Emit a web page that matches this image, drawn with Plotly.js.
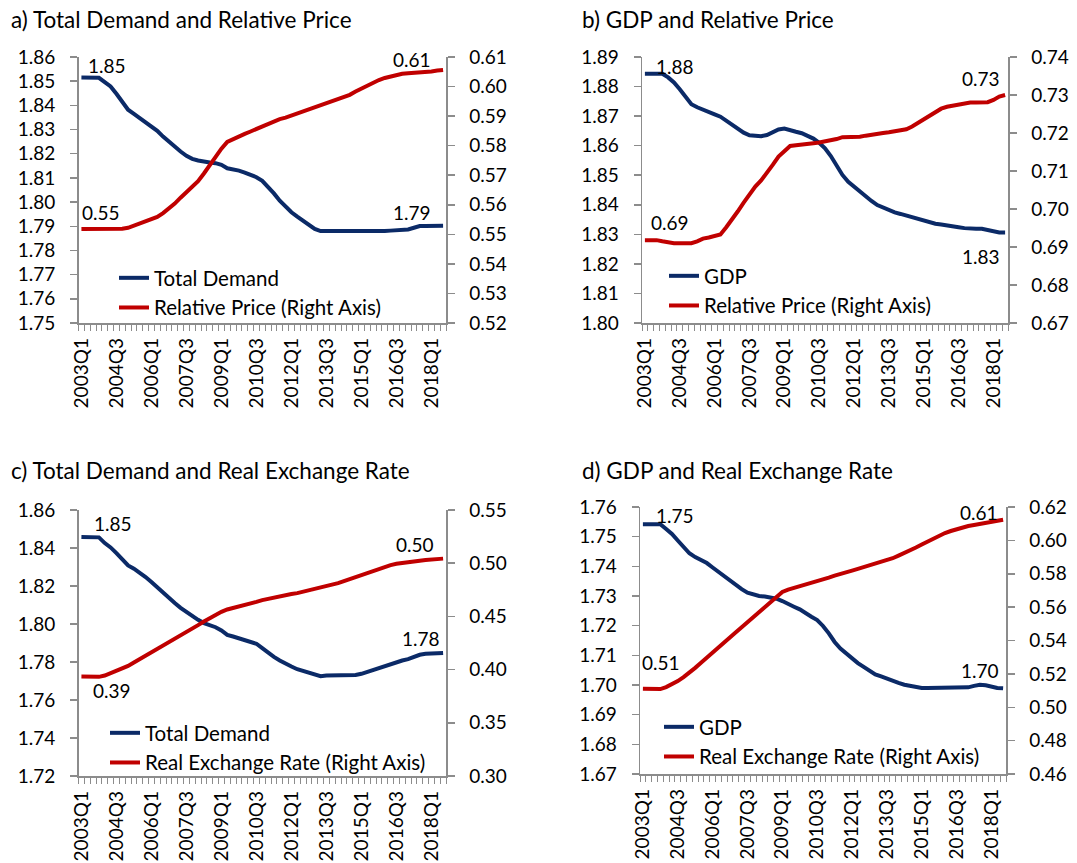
<!DOCTYPE html>
<html><head><meta charset="utf-8">
<script src="https://cdn.plot.ly/plotly-3.0.1.min.js"></script>
<style>html,body{margin:0;padding:0;background:#fff}</style>
</head><body><div id="chart" style="width:1077px;height:863px"></div>
<script>
// Categories: quarterly, 2003Q1 .. 2018Q3
const quarters = [];
for (let y = 2003; y <= 2018; y++) {
  for (let q = 1; q <= 4; q++) {
    if (y === 2018 && q > 3) break;
    quarters.push(y + 'Q' + q);
  }
}
const tickLabels = ['2003Q1','2004Q3','2006Q1','2007Q3','2009Q1','2010Q3','2012Q1','2013Q3','2015Q1','2016Q3','2018Q1'];

// a) Total Demand (left) and Relative Price (right)
const totalDemandA = [1.8515,1.8515,1.8515,1.8514,1.8496,1.8478,1.8448,1.8414,1.8382,1.8365,
  1.8347,1.8327,1.8310,1.8295,1.8271,1.8249,1.8227,1.8209,1.8191,1.8179,
  1.8172,1.8166,1.8164,1.8161,1.8154,1.8140,1.8136,1.8130,1.8122,1.8114,
  1.8103,1.8088,1.8064,1.8036,1.8006,1.7981,1.7958,1.7940,1.7922,1.7905,
  1.7889,1.7880,1.7880,1.7879,1.7878,1.7876,1.7876,1.7876,1.7876,1.7878,
  1.7878,1.7879,1.7880,1.7882,1.7883,1.7885,1.7887,1.7894,1.7901,1.7901,
  1.7900,1.7901,1.7902];
const relPriceA = [0.5518,0.5518,0.5518,0.5517,0.5516,0.5516,0.5517,0.5519,0.5522,0.5530,
  0.5538,0.5546,0.5553,0.5559,0.5572,0.5587,0.5604,0.5624,0.5643,0.5662,
  0.5680,0.5706,0.5734,0.5764,0.5790,0.5813,0.5823,0.5832,0.5840,0.5848,
  0.5857,0.5865,0.5874,0.5882,0.5890,0.5895,0.5902,0.5908,0.5915,0.5922,
  0.5929,0.5935,0.5942,0.5949,0.5956,0.5963,0.5972,0.5983,0.5993,0.6003,
  0.6013,0.6022,0.6029,0.6034,0.6039,0.6043,0.6045,0.6046,0.6047,0.6048,
  0.6051,0.6054,0.6056];

// b) GDP (left) and Relative Price (right)
const gdpB = [1.8843,1.8843,1.8843,1.8843,1.8831,1.8814,1.8791,1.8764,1.8740,1.8730,
  1.8723,1.8714,1.8706,1.8698,1.8685,1.8669,1.8655,1.8644,1.8635,1.8632,
  1.8632,1.8636,1.8644,1.8655,1.8658,1.8651,1.8647,1.8642,1.8633,1.8624,
  1.8610,1.8591,1.8565,1.8531,1.8501,1.8478,1.8461,1.8444,1.8427,1.8413,
  1.8399,1.8390,1.8382,1.8374,1.8369,1.8363,1.8358,1.8352,1.8346,1.8341,
  1.8336,1.8333,1.8329,1.8326,1.8324,1.8321,1.8319,1.8319,1.8319,1.8315,
  1.8309,1.8306,1.8306];
const relPriceB = [0.6918,0.6918,0.6918,0.6915,0.6912,0.6910,0.6910,0.6910,0.6910,0.6915,
  0.6922,0.6925,0.6929,0.6933,0.6952,0.6971,0.6994,0.7017,0.7039,0.7059,
  0.7075,0.7094,0.7116,0.7138,0.7151,0.7166,0.7168,0.7169,0.7171,0.7173,
  0.7175,0.7178,0.7180,0.7184,0.7189,0.7189,0.7189,0.7190,0.7193,0.7196,
  0.7198,0.7200,0.7202,0.7204,0.7207,0.7210,0.7217,0.7227,0.7236,0.7246,
  0.7256,0.7264,0.7269,0.7272,0.7275,0.7278,0.7280,0.7280,0.7281,0.7281,
  0.7287,0.7296,0.7300];

// c) Total Demand (left) and Real Exchange Rate (right)
const totalDemandC = [1.8458,1.8458,1.8458,1.8456,1.8426,1.8403,1.8373,1.8338,1.8308,1.8291,
  1.8272,1.8247,1.8221,1.8192,1.8164,1.8136,1.8110,1.8085,1.8062,1.8040,
  1.8022,1.8005,1.7994,1.7983,1.7966,1.7943,1.7934,1.7925,1.7913,1.7906,
  1.7896,1.7873,1.7848,1.7827,1.7808,1.7790,1.7776,1.7762,1.7752,1.7741,
  1.7732,1.7725,1.7729,1.7729,1.7727,1.7729,1.7731,1.7732,1.7738,1.7748,
  1.7759,1.7771,1.7780,1.7788,1.7797,1.7808,1.7815,1.7829,1.7838,1.7843,
  1.7845,1.7847,1.7848];
const rerC = [0.3935,0.3935,0.3935,0.3932,0.3944,0.3966,0.3988,0.4010,0.4035,0.4067,
  0.4098,0.4129,0.4161,0.4192,0.4223,0.4255,0.4289,0.4321,0.4352,0.4386,
  0.4418,0.4452,0.4484,0.4518,0.4543,0.4565,0.4578,0.4590,0.4606,0.4622,
  0.4637,0.4653,0.4666,0.4678,0.4691,0.4700,0.4710,0.4719,0.4732,0.4741,
  0.4753,0.4766,0.4782,0.4797,0.4813,0.4832,0.4851,0.4870,0.4891,0.4913,
  0.4932,0.4951,0.4970,0.4982,0.4995,0.5004,0.5012,0.5018,0.5024,0.5030,
  0.5035,0.5039,0.5043];

// d) GDP (left) and Real Exchange Rate (right)
const gdpD = [1.7542,1.7542,1.7542,1.7542,1.7526,1.7509,1.7487,1.7465,1.7444,1.7431,
  1.7422,1.7411,1.7396,1.7381,1.7367,1.7352,1.7337,1.7323,1.7311,1.7305,
  1.7300,1.7298,1.7296,1.7291,1.7283,1.7272,1.7264,1.7255,1.7241,1.7230,
  1.7219,1.7199,1.7174,1.7145,1.7123,1.7106,1.7089,1.7074,1.7061,1.7047,
  1.7036,1.7029,1.7021,1.7012,1.7007,1.7001,1.6997,1.6992,1.6990,1.6990,
  1.6990,1.6991,1.6992,1.6992,1.6992,1.6992,1.6992,1.6997,1.7001,1.6999,
  1.6994,1.6990,1.6989];
const rerD = [0.5111,0.5111,0.5111,0.5109,0.5121,0.5137,0.5157,0.5181,0.5206,0.5236,
  0.5266,0.5298,0.5330,0.5360,0.5390,0.5420,0.5450,0.5480,0.5510,0.5542,
  0.5570,0.5603,0.5635,0.5667,0.5691,0.5705,0.5715,0.5723,0.5731,0.5743,
  0.5755,0.5765,0.5777,0.5789,0.5801,0.5809,0.5819,0.5829,0.5839,0.5849,
  0.5859,0.5867,0.5879,0.5893,0.5909,0.5923,0.5939,0.5957,0.5975,0.5993,
  0.6012,0.6028,0.6044,0.6056,0.6068,0.6078,0.6086,0.6092,0.6098,0.6104,
  0.6112,0.6118,0.6124];

const BLUE = '#0B2A67', RED = '#C00000', AX = '#8C8C8C';
const FONT = 'Lato, "Open Sans", sans-serif';
const FS = 19, LFS = 20.5, TFS = 22.5;
const pos = quarters.map((q, i) => i);
const last = quarters.length - 1;

function line(y, xa, ya, name, color, legend, group) {
  return {type: 'scatter', mode: 'lines', x: pos, y: y, xaxis: xa, yaxis: ya, name: name,
    line: {color: color, width: 4}, legend: legend, legendgroup: group, hoverinfo: 'skip'};
}
const data = [
  line(totalDemandA, 'x', 'y', 'Total Demand', BLUE, 'legend', 'a1'),
  line(relPriceA, 'x', 'y2', 'Relative Price (Right Axis)', RED, 'legend', 'a2'),
  line(gdpB, 'x2', 'y3', 'GDP', BLUE, 'legend2', 'b1'),
  line(relPriceB, 'x2', 'y4', 'Relative Price (Right Axis)', RED, 'legend2', 'b2'),
  line(totalDemandC, 'x3', 'y5', 'Total Demand', BLUE, 'legend3', 'c1'),
  line(rerC, 'x3', 'y6', 'Real Exchange Rate (Right Axis)', RED, 'legend3', 'c2'),
  line(gdpD, 'x4', 'y7', 'GDP', BLUE, 'legend4', 'd1'),
  line(rerD, 'x4', 'y8', 'Real Exchange Rate (Right Axis)', RED, 'legend4', 'd2')
];

const W = 1077, H = 863;
const px = (a, b) => [a / W, b / W];
const py = (top, bottom) => [1 - bottom / H, 1 - top / H];

function xAxis(domain, anchor) {
  return {domain: domain, anchor: anchor, range: [-0.5, last + 0.5], tickmode: 'array',
    tickvals: tickLabels.map(l => quarters.indexOf(l)), ticktext: tickLabels, tickangle: -90,
    ticks: '', showline: true, linecolor: AX, linewidth: 1.5, showgrid: false, zeroline: false,
    tickfont: {size: FS, color: '#000'}, ticklabelstandoff: 6,
    minor: {tickmode: 'linear', tick0: -0.5, dtick: 1, ticks: 'outside', ticklen: 6,
      tickcolor: AX, tickwidth: 1, showgrid: false}};
}
function yAxis(domain, anchor, range, dtick, side, overlay) {
  const e = dtick * 1e-4;
  const ax = {anchor: anchor, range: [range[0] - e, range[1] + e], tick0: range[0], dtick: dtick,
    tickformat: '.2f', ticks: 'outside', ticklen: 7, tickcolor: AX, tickwidth: 1.5,
    showline: true, linecolor: AX, linewidth: 1.5, showgrid: false, zeroline: false,
    tickfont: {size: FS, color: '#000'}, ticklabelstandoff: 11, side: side};
  if (overlay) { ax.overlaying = overlay; } else { ax.domain = domain; }
  return ax;
}

const dxA = px(78.5, 446), dxB = px(642, 1008), dxC = px(78.5, 446), dxD = px(640, 1006);
const dyA = py(57, 323), dyB = py(57, 323), dyC = py(510, 776), dyD = py(507, 774);

function lbl(xa, ya, series, idx, xs, ys) {
  return {xref: xa, yref: ya, x: pos[idx], y: series[idx], text: series[idx].toFixed(2),
    showarrow: false, xshift: xs, yshift: ys, font: {size: FS, color: '#000'}};
}
function title(text, xpx, ypx) {
  return {xref: 'paper', yref: 'paper', x: xpx / W, y: 1 - ypx / H, xanchor: 'left', yanchor: 'middle',
    text: text, showarrow: false, font: {size: TFS, color: '#000'}};
}
function leg(xpx, ypx) {
  return {x: xpx / W, y: 1 - ypx / H, xanchor: 'left', yanchor: 'top', bgcolor: 'rgba(0,0,0,0)',
    font: {size: LFS, color: '#000'}, traceorder: 'grouped', tracegroupgap: 0, borderwidth: 0,
    itemwidth: 30};
}

const layout = {
  width: W, height: H, autosize: false,
  margin: {l: 0, r: 0, t: 0, b: 0, pad: 0},
  paper_bgcolor: '#fff', plot_bgcolor: 'rgba(0,0,0,0)',
  font: {family: FONT, size: FS, color: '#000'},
  showlegend: true,
  xaxis: xAxis(dxA, 'y'),
  yaxis: yAxis(dyA, 'x', [1.75, 1.86], 0.01, 'left'),
  yaxis2: yAxis(null, 'x', [0.52, 0.61], 0.01, 'right', 'y'),
  xaxis2: xAxis(dxB, 'y3'),
  yaxis3: yAxis(dyB, 'x2', [1.80, 1.89], 0.01, 'left'),
  yaxis4: yAxis(null, 'x2', [0.67, 0.74], 0.01, 'right', 'y3'),
  xaxis3: xAxis(dxC, 'y5'),
  yaxis5: yAxis(dyC, 'x3', [1.72, 1.86], 0.02, 'left'),
  yaxis6: yAxis(null, 'x3', [0.30, 0.55], 0.05, 'right', 'y5'),
  xaxis4: xAxis(dxD, 'y7'),
  yaxis7: yAxis(dyD, 'x4', [1.67, 1.76], 0.01, 'left'),
  yaxis8: yAxis(null, 'x4', [0.46, 0.62], 0.02, 'right', 'y7'),
  legend: leg(114, 258),
  legend2: leg(664, 256),
  legend3: leg(105, 713),
  legend4: leg(659, 707),
  annotations: [
    title('a) Total Demand and Relative Price', 9, 20),
    title('b) GDP and Relative Price', 580, 20),
    title('c) Total Demand and Real Exchange Rate', 9, 471),
    title('d) GDP and Real Exchange Rate', 580, 471),
    lbl('x', 'y', totalDemandA, 0, 25.6, 11.6),
    lbl('x', 'y2', relPriceA, 0, 19.6, 16.5),
    lbl('x', 'y2', relPriceA, last, -31, 10.5),
    lbl('x', 'y', totalDemandA, last, -31, 12.8),
    lbl('x2', 'y3', gdpB, 0, 30, 7.8),
    lbl('x2', 'y4', relPriceB, 0, 25, 18),
    lbl('x2', 'y4', relPriceB, last, -24, 16.5),
    lbl('x2', 'y3', gdpB, last, -24, -24.4),
    lbl('x3', 'y5', totalDemandC, 0, 32, 13.5),
    lbl('x3', 'y6', rerC, 0, 30.6, -14),
    lbl('x3', 'y6', rerC, last, -28, 14.3),
    lbl('x3', 'y5', totalDemandC, last, -22, 14.6),
    lbl('x4', 'y7', gdpD, 0, 32, 8.7),
    lbl('x4', 'y8', rerD, 0, 18, 26.4),
    lbl('x4', 'y8', rerD, last, -24, 7.2),
    lbl('x4', 'y7', gdpD, last, -23, 17.8)
  ]
};

Plotly.newPlot('chart', data, layout, {staticPlot: true, displayModeBar: false});
</script>
</body></html>
